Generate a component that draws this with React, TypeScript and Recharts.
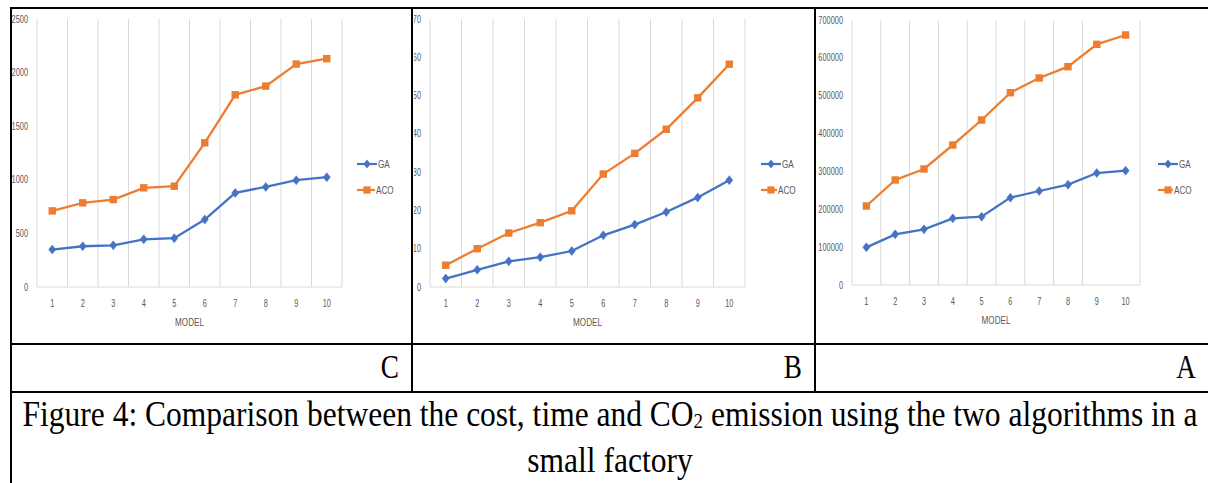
import React from "react";
import { LineChart, Line, XAxis, YAxis, CartesianGrid, Legend } from "recharts";

// categories
const models = [1, 2, 3, 4, 5, 6, 7, 8, 9, 10];
const gridTicks = [1.5, 2.5, 3.5, 4.5, 5.5, 6.5, 7.5, 8.5, 9.5, 10.5];

// panel C (0 - 2500)
const gaC = [349, 380, 389, 445, 455, 629, 878, 934, 996, 1024];
const acoC = [710, 785, 816, 925, 940, 1345, 1793, 1874, 2080, 2130];
const ticksC = [0, 500, 1000, 1500, 2000, 2500];

// panel B (0 - 70)
const gaB = [2.2, 4.5, 6.7, 7.8, 9.4, 13.5, 16.3, 19.6, 23.4, 27.9];
const acoB = [5.7, 10.0, 14.1, 16.8, 19.9, 29.5, 34.9, 41.2, 49.4, 58.2];
const ticksB = [0, 10, 20, 30, 40, 50, 60, 70];

// panel A (0 - 700000)
const gaA = [99500, 133800, 147000, 176100, 180500, 230700, 248300, 265000, 295800, 302000];
const acoA = [208700, 277400, 306400, 369800, 435800, 508000, 546800, 576700, 635700, 660400];
const ticksA = [0, 100000, 200000, 300000, 400000, 500000, 600000, 700000];

const BLUE = "#4472C4";
const ORANGE = "#ED7D31";
const GREY = "#595959";
const AXIS_FONT = "'Liberation Sans', Arial, sans-serif";
const SERIF = "'Liberation Serif', 'DejaVu Serif', serif";
const SQUEEZE = 0.74; // the source chart's text is narrow

const Diamond = (p: any) => {
  const { cx, cy, index } = p;
  if (cx == null || cy == null) return <g key={index} />;
  return (
    <path key={index} d={`M${cx},${cy - 4.5}L${cx + 3.6},${cy}L${cx},${cy + 4.5}L${cx - 3.6},${cy}Z`} fill={BLUE} stroke={BLUE} strokeWidth={0.5} />
  );
};

const Square = (p: any) => {
  const { cx, cy, index } = p;
  if (cx == null || cy == null) return <g key={index} />;
  return <rect key={index} x={cx - 3.7} y={cy - 3.7} width={7.4} height={7.4} fill={ORANGE} />;
};

const XTick = ({ x, y, payload }: any) => (
  <g transform={`translate(${x},${y})`}>
    <text transform={`scale(${SQUEEZE},1)`} textAnchor="middle" dy="0.71em" fill={GREY} fontSize={10} fontFamily={AXIS_FONT}>
      {payload.value}
    </text>
  </g>
);

const YTick = ({ x, y, payload }: any) => (
  <g transform={`translate(${x},${y})`}>
    <text transform={`scale(${SQUEEZE},1)`} textAnchor="end" dy="0.355em" fill={GREY} fontSize={10} fontFamily={AXIS_FONT}>
      {payload.value}
    </text>
  </g>
);

const ModelLabel = ({ viewBox }: any) => {
  if (!viewBox) return null;
  const cx = viewBox.x + viewBox.width / 2;
  const by = viewBox.y + viewBox.height - 5;
  return (
    <g transform={`translate(${cx},${by})`}>
      <text transform={`scale(${SQUEEZE},1)`} textAnchor="middle" fill={GREY} fontSize={11} fontFamily={AXIS_FONT}>
        MODEL
      </text>
    </g>
  );
};

function LegendBox({ width, pad }: { width: number; pad: number }) {
  const items = [
    { name: "GA", color: BLUE, shape: "diamond" },
    { name: "ACO", color: ORANGE, shape: "square" },
  ];
  return (
    <div style={{ width, paddingLeft: pad, boxSizing: "border-box", fontFamily: AXIS_FONT, fontSize: 11, color: GREY }}>
      {items.map((it) => (
        <div key={it.name} style={{ display: "flex", alignItems: "center", height: 26 }}>
          <svg width={20} height={10}>
            <line x1={0} y1={5} x2={20} y2={5} stroke={it.color} strokeWidth={2.2} />
            {it.shape === "diamond" ? (
              <path d="M10,0.5L13.5,5L10,9.5L6.5,5Z" fill={it.color} />
            ) : (
              <rect x={6.4} y={1.4} width={7.2} height={7.2} fill={it.color} />
            )}
          </svg>
          <span style={{ marginLeft: 1, display: "inline-block", transform: `scaleX(${SQUEEZE})`, transformOrigin: "left center" }}>{it.name}</span>
        </div>
      ))}
    </div>
  );
}

type PanelProps = {
  left: number;
  width: number;
  ga: number[];
  aco: number[];
  ticks: number[];
  yWidth: number;
  top: number;
  bottom: number;
  legendWidth: number;
  legendPad: number;
};

function Panel({ left, width, ga, aco, ticks, yWidth, top, bottom, legendWidth, legendPad }: PanelProps) {
  const rows = models.map((m, i) => ({ model: m, GA: ga[i], ACO: aco[i] }));
  return (
    <div style={{ position: "absolute", left, top: 10, width, height: 333 }}>
      <LineChart width={width} height={333} data={rows} margin={{ top, right: 10, bottom, left: 0 }}>
        <XAxis xAxisId="grid" dataKey="model" type="number" domain={[0.5, 10.5]} ticks={gridTicks} hide />
        <CartesianGrid xAxisId="grid" horizontal={false} stroke="#D9D9D9" strokeWidth={1} />
        <XAxis
          dataKey="model"
          type="number"
          domain={[0.5, 10.5]}
          ticks={models}
          interval={0}
          height={44}
          tickLine={false}
          tickMargin={7}
          axisLine={{ stroke: "#D9D9D9" }}
          tick={<XTick />}
          label={<ModelLabel />}
        />
        <YAxis
          width={yWidth}
          domain={[ticks[0], ticks[ticks.length - 1]]}
          ticks={ticks}
          interval={0}
          axisLine={false}
          tickLine={false}
          tickMargin={3}
          tick={<YTick />}
        />
        <Legend layout="vertical" align="right" verticalAlign="middle" content={() => <LegendBox width={legendWidth} pad={legendPad} />} />
        <Line dataKey="GA" stroke={BLUE} strokeWidth={2.3} dot={Diamond} isAnimationActive={false} />
        <Line dataKey="ACO" stroke={ORANGE} strokeWidth={2.3} dot={Square} isAnimationActive={false} />
      </LineChart>
    </div>
  );
}

const rule = (left: number, top: number, width: number, height: number) => (
  <div style={{ position: "absolute", left, top, width, height, background: "#000" }} />
);

export default function App() {
  return (
    <div style={{ position: "absolute", left: 0, top: 0, width: 1208, height: 483, background: "#fff", overflow: "hidden" }}>
      <Panel left={12} width={398} ga={gaC} aco={acoC} ticks={ticksC} yWidth={25} top={9} bottom={12} legendWidth={58} legendPad={15} />
      <Panel left={414} width={398} ga={gaB} aco={acoB} ticks={ticksB} yWidth={16} top={9} bottom={12} legendWidth={57} legendPad={16} />
      <Panel left={816} width={392} ga={gaA} aco={acoA} ticks={ticksA} yWidth={36} top={10} bottom={14} legendWidth={58} legendPad={18} />

      {rule(10, 7, 1198, 2)}
      {rule(10, 7, 2, 476)}
      {rule(411, 7, 2, 386)}
      {rule(814, 7, 2, 386)}
      {rule(10, 343, 1198, 2)}
      {rule(10, 391, 1198, 2)}

      {[
        { t: "C", l: 12, w: 399 },
        { t: "B", l: 413, w: 401 },
        { t: "A", l: 816, w: 392 },
      ].map((c) => (
        <div
          key={c.t}
          style={{
            position: "absolute",
            left: c.l,
            top: 344,
            width: c.w - 12,
            height: 46,
            lineHeight: "46px",
            textAlign: "right",
            fontFamily: SERIF,
            fontSize: 34,
            transform: "scaleX(0.8)",
            transformOrigin: "right center",
          }}
        >
          {c.t}
        </div>
      ))}

      <div
        style={{
          position: "absolute",
          left: -90,
          top: 392,
          width: 1400,
          textAlign: "center",
          fontFamily: SERIF,
          fontSize: 35,
          lineHeight: "46px",
          whiteSpace: "nowrap",
          transform: "scaleX(0.9)",
          transformOrigin: "center top",
        }}
      >
        Figure 4: Comparison between the cost, time and CO<sub style={{ fontSize: 21, verticalAlign: "-2px", lineHeight: 0 }}>2</sub> emission using the two algorithms in a
        <br />
        small factory
      </div>
    </div>
  );
}
